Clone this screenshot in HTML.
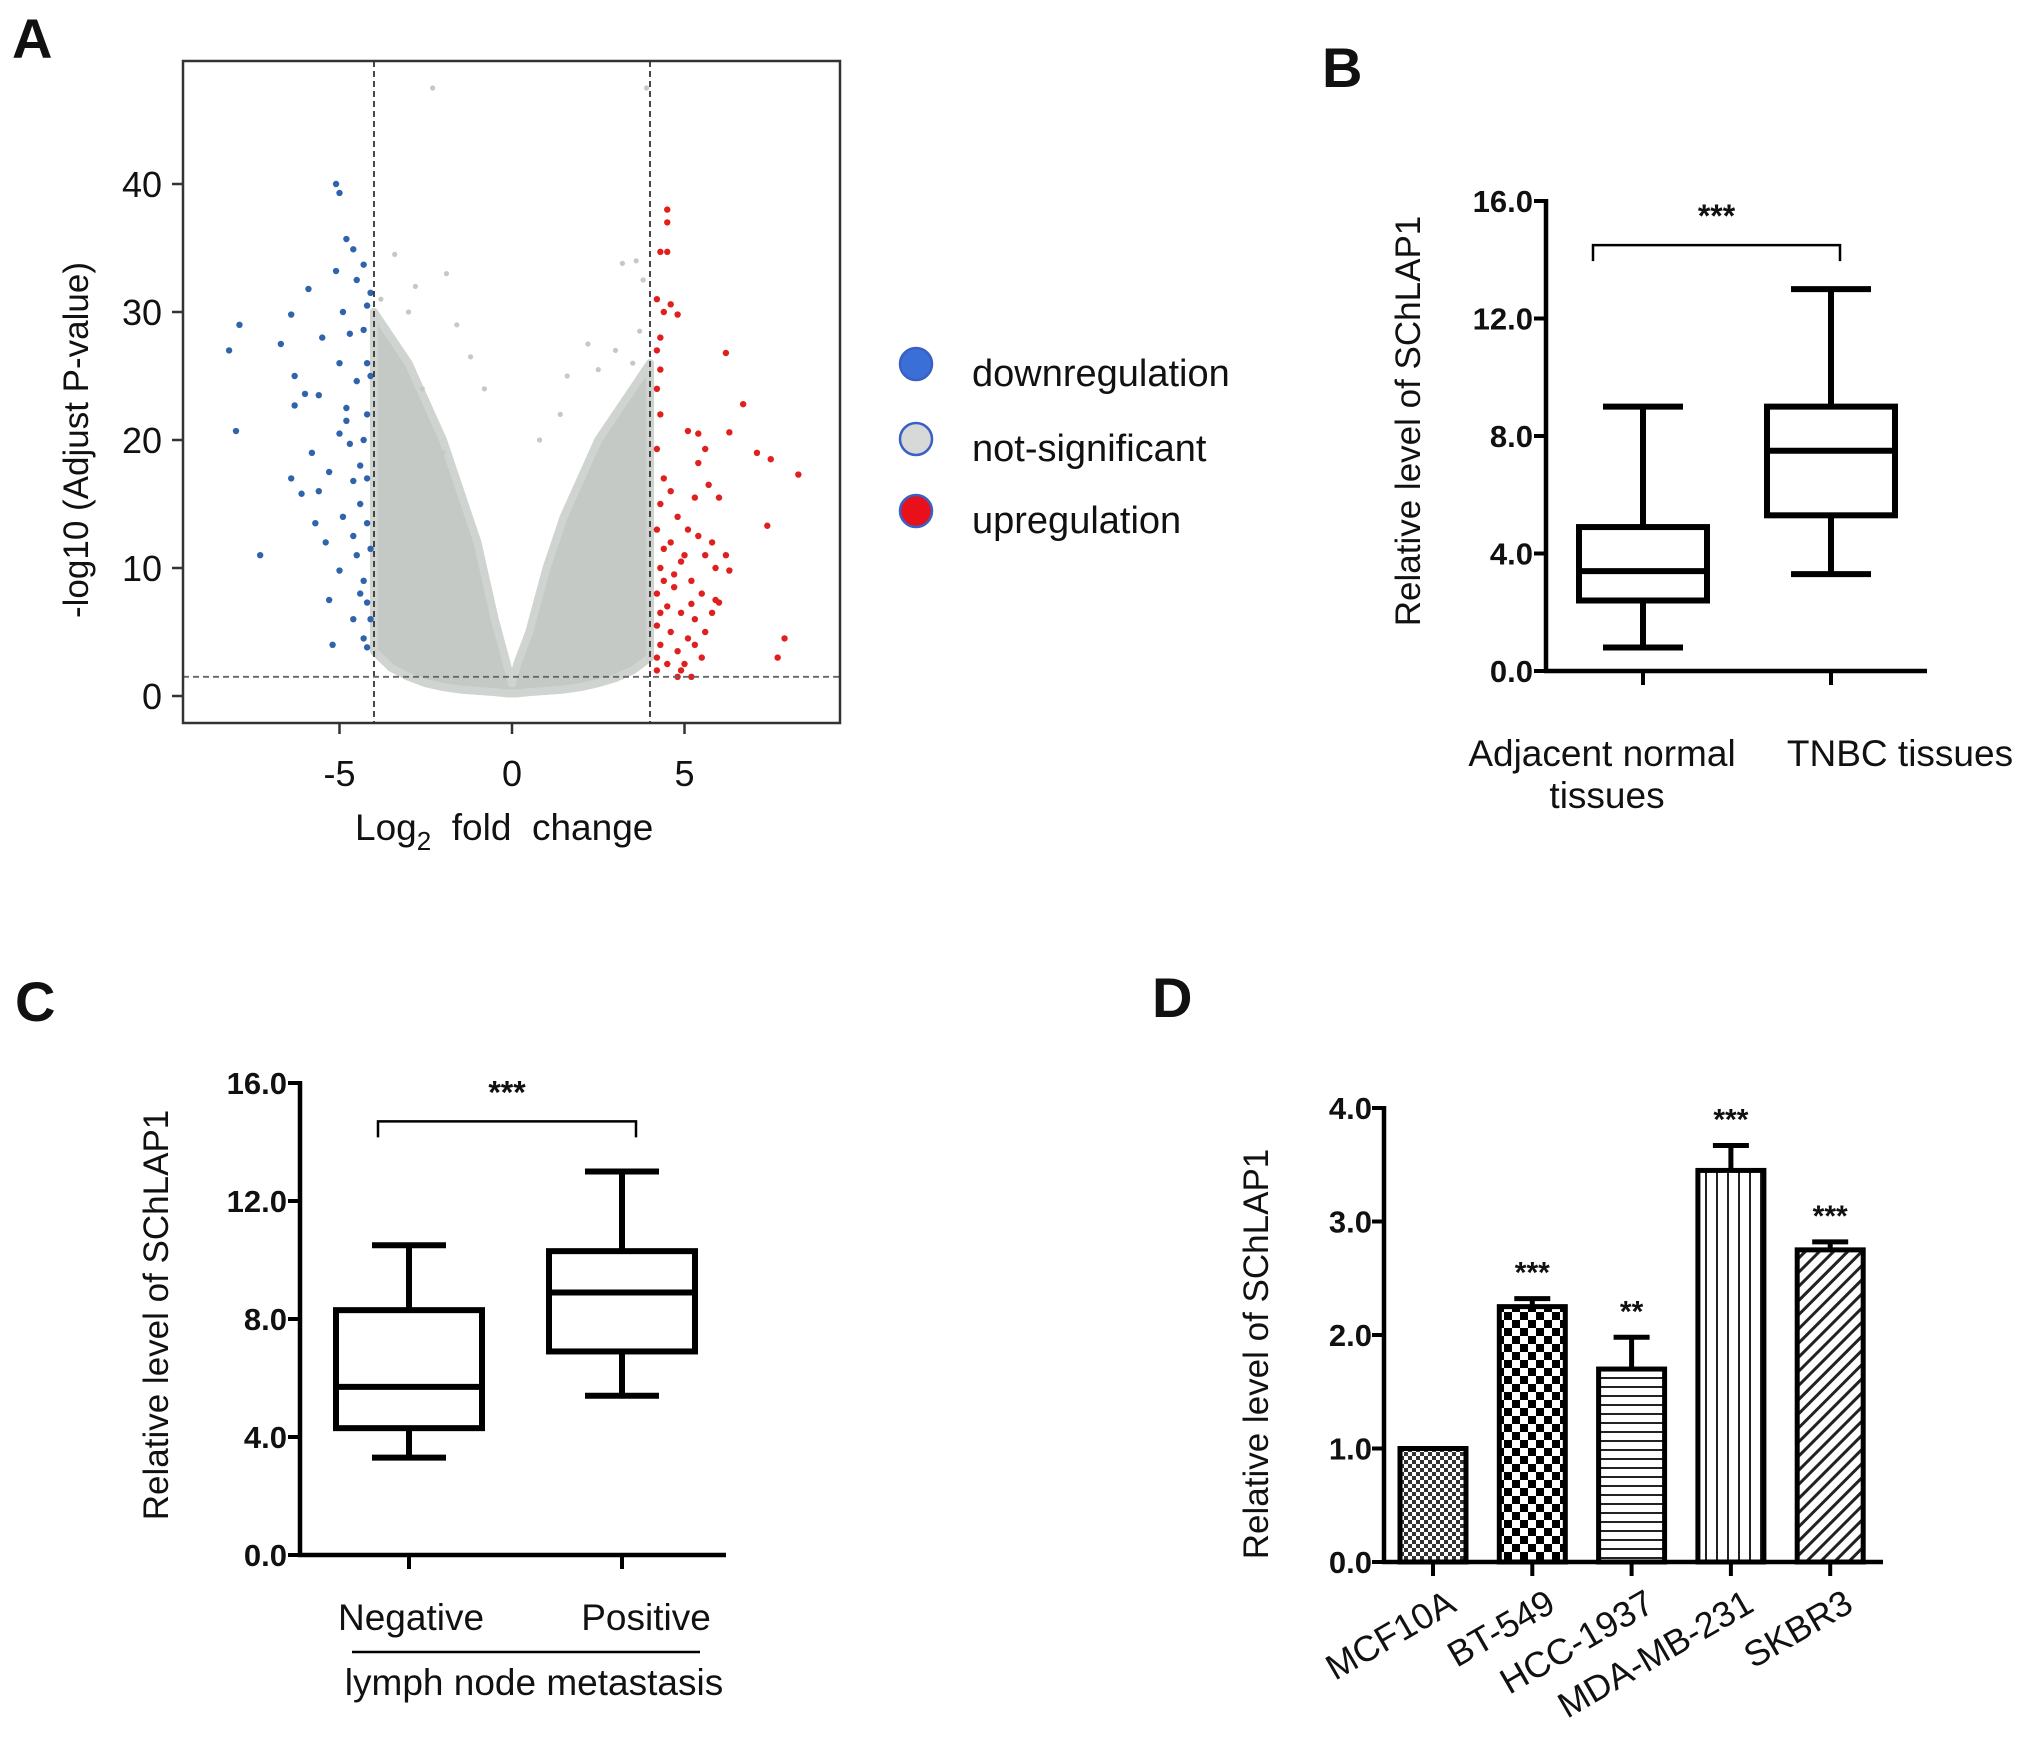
<!DOCTYPE html>
<html><head><meta charset="utf-8"><style>
html,body{margin:0;padding:0;background:#fff}
svg{display:block}
text{font-family:"Liberation Sans",Arial,sans-serif;fill:#111}
.b{font-weight:bold}
</style></head><body>
<svg id="fig" width="2031" height="1762" viewBox="0 0 2031 1762" xmlns="http://www.w3.org/2000/svg">
<defs>
<pattern id="p1" width="8" height="8" patternUnits="userSpaceOnUse"><rect width="8" height="8" fill="#fff"/><rect width="4" height="4" fill="#333"/><rect x="4" y="4" width="4" height="4" fill="#333"/></pattern>
<pattern id="p2" width="16" height="16" patternUnits="userSpaceOnUse"><rect width="16" height="16" fill="#fff"/><rect width="8" height="8" fill="#000"/><rect x="8" y="8" width="8" height="8" fill="#000"/></pattern>
<pattern id="p3" width="10" height="9" patternUnits="userSpaceOnUse"><rect width="10" height="9" fill="#fff"/><rect y="0" width="10" height="2" fill="#222"/></pattern>
<pattern id="p4" width="11" height="10" patternUnits="userSpaceOnUse"><rect width="11" height="10" fill="#fff"/><rect x="0" width="2" height="10" fill="#222"/></pattern>
<pattern id="p5" width="10" height="10" patternUnits="userSpaceOnUse" patternTransform="rotate(45)"><rect width="10" height="10" fill="#fff"/><rect width="3" height="10" fill="#222"/></pattern>
</defs>
<g id="A"></g>
<g id="B"></g>
<g id="C"></g>
<g id="D"></g>
</svg>
<script>
// ---------- Panel A data ----------
const volcEnvX=[-4,-3.5,-3,-2.5,-2,-1.5,-1,-0.5,-0.15,0,0.15,0.5,1,1.5,2,2.5,3,3.5,4];
const volcEnvTop=[30,28,26,23,20,16,12,6,2.5,1,2.5,5,10,14,17,20,22,24,26];
const volcEnvBottom=[3.5,2.2,1.5,1,0.7,0.5,0.4,0.3,0.2,0.2,0.2,0.3,0.4,0.5,0.7,1,1.4,2,3];
const grayX=[-2.3,3.9,-3.4,-1.9,-2.8,-3.0,-1.6,-1.2,-0.8,3.6,3.2,3.8,2.2,3.0,3.5,1.6,2.5,1.4,0.8,-2.6,-3.6,-2.0,-3.8,3.7];
const grayY=[47.5,47.5,34.5,33,32,30,29,26.5,24,34,33.8,32.5,27.5,27,26,25,25.5,22,20,24,27,19,31,28.5];
const downX=[-8.2,-7.9,-8.0,-7.3,-6.4,-6.7,-6.3,-6.0,-6.3,-6.4,-6.1,-5.9,-5.5,-5.6,-5.8,-5.7,-5.4,-5.1,-5.0,-4.8,-5.1,-4.6,-4.5,-5.0,-4.8,-5.0,-4.7,-4.4,-4.6,-4.2,-4.3,-4.2,-4.5,-4.2,-4.3,-4.2,-4.4,-4.2,-4.5,-4.3,-4.4,-4.2,-4.6,-4.3,-4.2,-5.2,-5.3,-5.0,-4.9,-4.1,-4.1,-4.1,-4.7,-5.3,-5.6,-4.9,-4.1,-4.6,-4.8,-4.3];
const downY=[27,29,20.7,11,29.8,27.5,25,23.6,22.7,17,15.8,31.8,28,23.5,19,13.5,12,40,39.3,35.7,33.2,34.9,32.5,26,22.5,20.5,19.7,18,16.8,30.5,28.6,26,24.6,22,20,17,15,13.5,11,9,8,7.3,6,4.5,3.8,4,7.5,9.8,14,11.5,25,31.5,28.3,17.5,16,30,6,12.5,21.5,33.7];
const upX=[4.5,4.5,4.3,4.5,4.2,4.4,4.8,4.6,4.3,4.2,4.3,4.2,4.3,6.2,6.7,5.1,5.4,6.3,5.6,5.4,7.1,7.5,8.3,4.2,4.4,5.7,5.3,4.3,4.8,5.1,5.8,6.2,7.4,4.2,4.6,5.0,5.6,5.9,6.3,4.3,4.7,5.2,5.5,5.9,6.0,4.2,4.5,4.9,5.3,4.2,4.6,5.1,4.3,4.8,5.5,4.2,4.5,4.9,5.2,5.0,7.9,7.7,5.6,4.4,4.7,5.2,4.3,4.9,5.4,4.6,6.0,5.8,4.2,4.8,5.3,4.4];
const upY=[38,37,34.7,34.7,31,30,29.8,30.6,28,27,25.5,24,22,26.8,22.8,20.7,20.5,20.6,19.3,18.2,19,18.5,17.3,19.3,17,16.5,15.5,15,14,13,12,11,13.3,13,12,11,11,10,9.8,10,9.5,9,8,7.5,7.3,8,7,6.5,6,5.5,5,4.5,4,3.5,3,3,2.5,2,1.5,2.5,4.5,3,5,11.5,8.5,7.2,6.5,10.5,12.5,16,15.5,6.5,2,1.5,4,9];
const volcXTicks=[-5,0,5];
const volcYTicks=[0,10,20,30,40];
const volcThreshX=[-4,4];
const volcThreshY=1.5;
const legendLabels=["downregulation","not-significant","upregulation"];
// ---------- Panel B data ----------
const bCats=["Adjacent normal|tissues","TNBC tissues"];
const bMin=[0.8,3.3], bQ1=[2.4,5.3], bMed=[3.4,7.5], bQ3=[4.9,9.0], bMax=[9.0,13.0];
const bTicks=["0.0","4.0","8.0","12.0","16.0"];
// ---------- Panel C data ----------
const cCats=["Negative","Positive"];
const cMin=[3.3,5.4], cQ1=[4.3,6.9], cMed=[5.7,8.9], cQ3=[8.3,10.3], cMax=[10.5,13.0];
const cTicks=["0.0","4.0","8.0","12.0","16.0"];
// ---------- Panel D data ----------
const dCats=["MCF10A","BT-549","HCC-1937","MDA-MB-231","SKBR3"];
const dVals=[1.0,2.25,1.7,3.45,2.75];
const dErr=[0,0.07,0.28,0.22,0.07];
const dSig=["","***","**","***","***"];
const dTicks=["0.0","1.0","2.0","3.0","4.0"];

const NS="http://www.w3.org/2000/svg";
function mk(parent,tag,attrs,txt){const e=document.createElementNS(NS,tag);for(const k in attrs)e.setAttribute(k,attrs[k]);if(txt!==undefined)e.textContent=txt;parent.appendChild(e);return e;}

// ===== Panel A =====
(function(){
const g=document.getElementById('A');
const X=v=>512+v*34.5, Y=v=>696-v*12.8;
let t=mk(g,'text',{x:12,y:58,'font-size':56,class:'b'},'A');


let pts=volcEnvX.map((x,i)=>X(x)+','+Y(volcEnvTop[i]));
for(let i=volcEnvX.length-1;i>=0;i--)pts.push(X(volcEnvX[i])+','+Y(volcEnvBottom[i]));
let cl=mk(g,'polygon',{points:pts.join(' '),fill:'#c4c9c6',stroke:'#d0d4d1','stroke-width':8,'stroke-linejoin':'round'});


grayX.forEach((x,i)=>{const c=mk(g,'circle',{cx:X(x),cy:Y(grayY[i]),r:2.6,fill:'#c4c9c6'});

});
downX.forEach((x,i)=>{const c=mk(g,'circle',{cx:X(x),cy:Y(downY[i]),r:3.2,fill:'#2f64ad'});

});
upX.forEach((x,i)=>{const c=mk(g,'circle',{cx:X(x),cy:Y(upY[i]),r:3.2,fill:'#e0201e'});

});
volcThreshX.forEach(v=>{const l=mk(g,'line',{x1:X(v),x2:X(v),y1:61,y2:723,stroke:'#333','stroke-width':1.8,'stroke-dasharray':'6,4'});

});
let hl=mk(g,'line',{x1:183,x2:840,y1:Y(volcThreshY),y2:Y(volcThreshY),stroke:'#666','stroke-width':1.8,'stroke-dasharray':'6,4'});


let bx=mk(g,'rect',{x:183,y:61,width:657,height:662,fill:'none',stroke:'#333','stroke-width':2.5});


volcYTicks.forEach(v=>{mk(g,'line',{x1:172,x2:183,y1:Y(v),y2:Y(v),stroke:'#333','stroke-width':2.5});
const tt=mk(g,'text',{x:162,y:Y(v)+13,'font-size':36,'text-anchor':'end'},String(v));

});
volcXTicks.forEach(v=>{mk(g,'line',{x1:X(v),x2:X(v),y1:723,y2:734,stroke:'#333','stroke-width':2.5});
const tt=mk(g,'text',{x:X(v),y:786,'font-size':36,'text-anchor':'middle'},v<0?'-'+Math.abs(v):String(v));

});
let yt=mk(g,'text',{x:0,y:0,'font-size':35,'text-anchor':'middle',transform:'translate(88,440) rotate(-90)'},'-log10 (Adjust P-value)');


let xt=mk(g,'text',{x:355,y:840,'font-size':37},'');


mk(xt,'tspan',{},'Log');mk(xt,'tspan',{'font-size':26,dy:10},'2');mk(xt,'tspan',{dy:-10},'\u00a0\u00a0fold\u00a0\u00a0change');
const lc=['#3a6fd8','#d6d9d7','#e8101a'], ly=[364,439,511];
legendLabels.forEach((s,i)=>{const c=mk(g,'circle',{cx:916,cy:ly[i],r:16,fill:lc[i],stroke:'#3b5fc4','stroke-width':2.5});


const tt=mk(g,'text',{x:972,y:ly[i]+22,'font-size':38},s);

});
})();

// ===== Box panels =====
function boxPanel(id,letter,lx,ly,ax,y0,y16,xr,cx,bw,cw,mn,q1,md,q3,mx,ticks,br,title,tx,ty){
const g=document.getElementById(id);
const Y=v=>y0-(y0-y16)*v/16;
let t=mk(g,'text',{x:lx,y:ly,'font-size':56,class:'b'},letter);


mk(g,'line',{x1:ax,x2:ax,y1:y16-2,y2:y0+2,stroke:'#000','stroke-width':4.5});
mk(g,'line',{x1:ax-2,x2:xr,y1:y0,y2:y0,stroke:'#000','stroke-width':4.5});
ticks.forEach((s,i)=>{const v=i*4;mk(g,'line',{x1:ax-12,x2:ax,y1:Y(v),y2:Y(v),stroke:'#000','stroke-width':4});
const tt=mk(g,'text',{x:ax-13,y:Y(v)+11,'font-size':31,'text-anchor':'end',class:'b'},s);

});
cx.forEach((c,i)=>{mk(g,'line',{x1:c,x2:c,y1:y0,y2:y0+14,stroke:'#000','stroke-width':4});
const bg=mk(g,'g',{});


mk(bg,'line',{x1:c,x2:c,y1:Y(mx[i]),y2:Y(q3[i]),stroke:'#000','stroke-width':6});
mk(bg,'line',{x1:c,x2:c,y1:Y(q1[i]),y2:Y(mn[i]),stroke:'#000','stroke-width':6});
mk(bg,'line',{x1:c-cw/2,x2:c+cw/2,y1:Y(mx[i]),y2:Y(mx[i]),stroke:'#000','stroke-width':6});
mk(bg,'line',{x1:c-cw/2,x2:c+cw/2,y1:Y(mn[i]),y2:Y(mn[i]),stroke:'#000','stroke-width':6});
mk(bg,'rect',{x:c-bw/2,y:Y(q3[i]),width:bw,height:Y(q1[i])-Y(q3[i]),fill:'#fff',stroke:'#000','stroke-width':6});
mk(bg,'line',{x1:c-bw/2,x2:c+bw/2,y1:Y(md[i]),y2:Y(md[i]),stroke:'#000','stroke-width':6});
});
const by=Y(br[2]);
let p=mk(g,'path',{d:`M${br[0]},${by+16} V${by} H${br[1]} V${by+16}`,fill:'none',stroke:'#000','stroke-width':2.5});


let s=mk(g,'text',{x:(br[0]+br[1])/2,y:by-18,'font-size':32,'text-anchor':'middle',class:'b'},'***');


let yt=mk(g,'text',{x:0,y:0,'font-size':35,'text-anchor':'middle',transform:`translate(${tx},${ty}) rotate(-90)`},title);


return g;
}
(function(){
const g=boxPanel('B','B',1322,87,1546,671,201,1927,[1643,1831],128,80,bMin,bQ1,bMed,bQ3,bMax,bTicks,[1593,1840,14.5],'Relative level of SChLAP1',1420,421);
const l1=bCats[0].split('|');
let a=mk(g,'text',{x:1602,y:766,'font-size':37,'text-anchor':'middle'},l1[0]);


let a2=mk(g,'text',{x:1607,y:808,'font-size':37,'text-anchor':'middle'},l1[1]);


let b=mk(g,'text',{x:1900,y:766,'font-size':37,'text-anchor':'middle'},bCats[1]);


})();
(function(){
const g=boxPanel('C','C',15,1021,300,1555,1083,726,[409,622],146,74,cMin,cQ1,cMed,cQ3,cMax,cTicks,[378,636,14.7],'Relative level of SChLAP1',168,1315);
cCats.forEach((s,i)=>{const t=mk(g,'text',{x:[411,646][i],y:1630,'font-size':37,'text-anchor':'middle'},s);

});
let l=mk(g,'line',{x1:352,x2:700,y1:1652,y2:1652,stroke:'#000','stroke-width':2.5});


let t=mk(g,'text',{x:534,y:1695,'font-size':37,'text-anchor':'middle'},'lymph node metastasis');


})();

// ===== Panel D =====
(function(){
const g=document.getElementById('D');
const ax=1384,y0=1562,unit=113.5;
const Y=v=>y0-v*unit;
const X=i=>1433+i*99.3;
let t=mk(g,'text',{x:1152,y:1017,'font-size':56,class:'b'},'D');


const pats=['p1','p2','p3','p4','p5'];
dCats.forEach((c,i)=>{const x=X(i);
if(dErr[i]>0){mk(g,'line',{x1:x,x2:x,y1:Y(dVals[i]),y2:Y(dVals[i]+dErr[i]),stroke:'#000','stroke-width':5});
mk(g,'line',{x1:x-18,x2:x+18,y1:Y(dVals[i]+dErr[i]),y2:Y(dVals[i]+dErr[i]),stroke:'#000','stroke-width':5});}
const r=mk(g,'rect',{x:x-33,y:Y(dVals[i]),width:66,height:y0-Y(dVals[i]),fill:`url(#${pats[i]})`,stroke:'#000','stroke-width':5});


if(dSig[i]){const s=mk(g,'text',{x:x,y:Y(dVals[i]+dErr[i])-16,'font-size':30,'text-anchor':'middle',class:'b'},dSig[i]);

}
mk(g,'line',{x1:x,x2:x,y1:y0,y2:y0+14,stroke:'#000','stroke-width':4});
const l=mk(g,'text',{x:0,y:0,'font-size':36,'text-anchor':'end',transform:`translate(${x+25},${y0+48}) rotate(-30)`},c);


});
mk(g,'line',{x1:ax,x2:ax,y1:Y(4)-2,y2:y0+2,stroke:'#000','stroke-width':4.5});
mk(g,'line',{x1:ax-2,x2:1883,y1:y0,y2:y0,stroke:'#000','stroke-width':4.5});
dTicks.forEach((s,i)=>{mk(g,'line',{x1:ax-12,x2:ax,y1:Y(i),y2:Y(i),stroke:'#000','stroke-width':4});
const tt=mk(g,'text',{x:ax-12,y:Y(i)+11,'font-size':31,'text-anchor':'end',class:'b'},s);

});
let yt=mk(g,'text',{x:0,y:0,'font-size':35,'text-anchor':'middle',transform:'translate(1268,1354) rotate(-90)'},'Relative level of SChLAP1');


})();
</script>
</body></html>
